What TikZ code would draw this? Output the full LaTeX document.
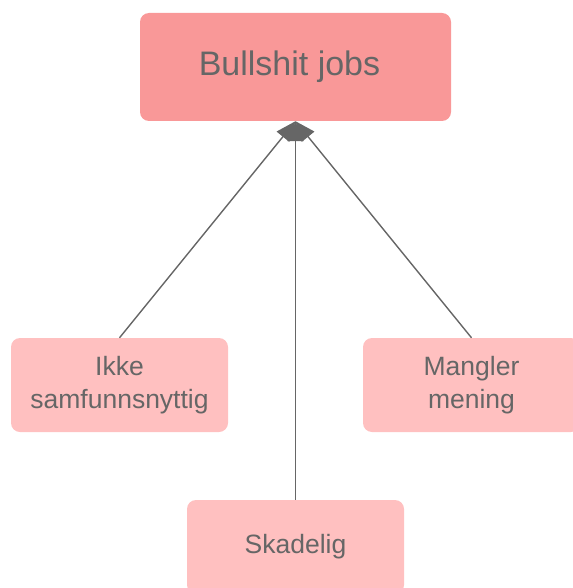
\documentclass[tikz,border=0pt]{standalone}
\usepackage{fontspec}
\setmainfont{Liberation Sans}
\usetikzlibrary{arrows.meta}
\definecolor{bjred}{RGB}{249,152,152}
\definecolor{bjpink}{RGB}{255,192,192}
\definecolor{bjgray}{RGB}{102,102,102}

\begin{document}
\begin{tikzpicture}[x=1pt,y=-1pt,>={Triangle[length=20pt,width=16pt]},
    every node/.style={align=center,text=bjgray,rounded corners=9pt,inner sep=0pt},
    cause/.style={fill=bjpink,minimum width=217pt,minimum height=94pt,font=\fontsize{26.5}{33}\selectfont}]
    \useasboundingbox (0,0) rectangle (572,588);
    \node[fill=bjred,minimum width=311pt,minimum height=108pt,font=\fontsize{34}{40}\selectfont] (bullshit) at (295.5,67) {Bullshit jobs\hspace*{12pt}};
    \node[cause] (ikke) at (119.5,385) {Ikke\\samfunnsnyttig};
    \node[cause] (mangler) at (471.5,385) {Mangler\\mening};
    \node[cause] (skadelig) at (295.5,547) {Skadelig};
    \draw[->,bjgray,line width=1.4pt] (ikke.north) -- (bullshit.south);
    \draw[->,bjgray,line width=1.4pt] (skadelig.north) -- (bullshit.south);
    \draw[->,bjgray,line width=1.4pt] (mangler.north) -- (bullshit.south);
  \end{tikzpicture}
\end{document}
